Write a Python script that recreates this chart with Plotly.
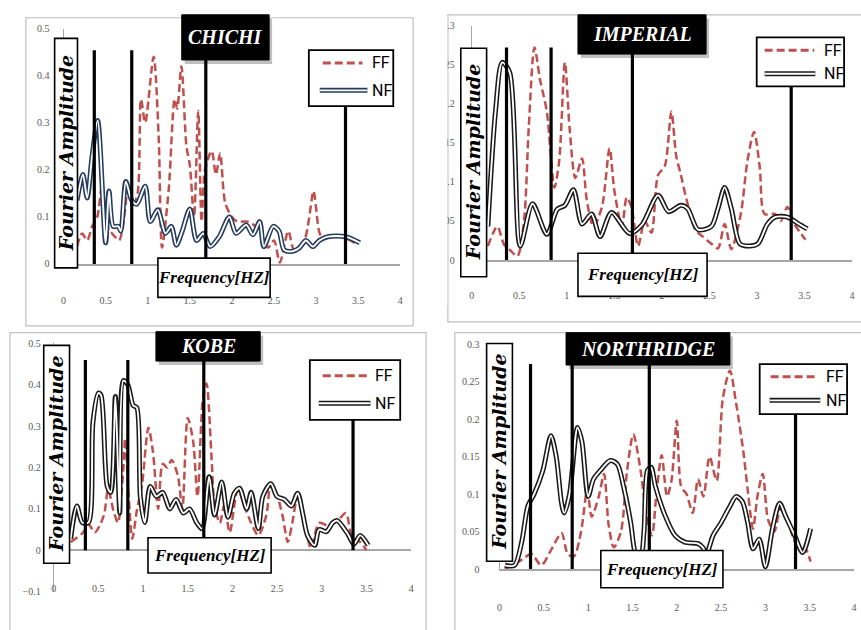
import plotly.graph_objects as go

# ---------------- DATA ----------------
# CHICHI
chichi_ff_f = [0.16, 0.22, 0.28, 0.34, 0.40, 0.46, 0.52, 0.60, 0.66, 0.72, 0.77, 0.82, 0.88, 0.92, 0.97,
               1.07, 1.13, 1.17, 1.25, 1.32, 1.35, 1.40, 1.46, 1.50, 1.55, 1.60, 1.64, 1.68, 1.76, 1.81,
               1.86, 1.92, 2.00, 2.07, 2.19, 2.31, 2.43, 2.50, 2.57, 2.67, 2.74, 2.86, 2.97, 3.00, 3.06,
               3.20, 3.35, 3.50]
chichi_ff_a = [0.037, 0.065, 0.05, 0.08, 0.10, 0.17, 0.08, 0.06, 0.05, 0.10, 0.17, 0.12, 0.15, 0.35, 0.30,
               0.44, 0.27, 0.035, 0.16, 0.35, 0.33, 0.42, 0.25, 0.21, 0.10, 0.325, 0.09, 0.20, 0.24, 0.19,
               0.235, 0.13, 0.10, 0.09, 0.09, 0.075, 0.035, 0.05, 0.003, 0.07, 0.03, 0.05, 0.155, 0.12, 0.06,
               0.06, 0.055, 0.04]
chichi_nf_f = [0.16, 0.23, 0.28, 0.34, 0.405, 0.50, 0.54, 0.59, 0.65, 0.68, 0.74, 0.81, 0.87, 0.97, 1.03,
               1.12, 1.21, 1.28, 1.34, 1.41, 1.50, 1.58, 1.66, 1.74, 1.85, 1.97, 2.05, 2.17, 2.25, 2.33,
               2.38, 2.49, 2.56, 2.62, 2.72, 2.80, 2.88, 2.96, 3.04, 3.14, 3.35, 3.52]
chichi_nf_a = [0.135, 0.19, 0.14, 0.23, 0.305, 0.045, 0.155, 0.08, 0.08, 0.07, 0.175, 0.135, 0.127, 0.165, 0.09,
               0.115, 0.065, 0.08, 0.04, 0.07, 0.117, 0.05, 0.065, 0.037, 0.058, 0.10, 0.065, 0.083, 0.062, 0.09,
               0.037, 0.08, 0.07, 0.03, 0.027, 0.034, 0.05, 0.037, 0.05, 0.058, 0.058, 0.045]
chichi_marks_f = [0.365, 0.81, 1.69, 3.35]
chichi_marks_top = [0.454, 0.454, 0.44, 0.34]

# IMPERIAL
imperial_ff_f = [0.17, 0.27, 0.34, 0.41, 0.48, 0.55, 0.60, 0.66, 0.72, 0.79, 0.87, 0.92, 0.98, 1.03, 1.09,
                 1.16, 1.21, 1.28, 1.37, 1.45, 1.50, 1.58, 1.63, 1.68, 1.75, 1.82, 1.89, 1.96, 2.03, 2.10,
                 2.15, 2.20, 2.26, 2.35, 2.43, 2.52, 2.59, 2.66, 2.73, 2.83, 2.90, 2.97, 3.03, 3.08, 3.19,
                 3.25, 3.32, 3.39, 3.51]
imperial_ff_a = [0.018, 0.043, 0.02, 0.012, 0.005, 0.05, 0.17, 0.272, 0.23, 0.19, 0.093, 0.127, 0.253, 0.168, 0.105,
                 0.13, 0.077, 0.043, 0.068, 0.143, 0.089, 0.043, 0.08, 0.068, 0.018, 0.05, 0.035, 0.109, 0.12, 0.19,
                 0.134, 0.109, 0.077, 0.039, 0.03, 0.021, 0.015, 0.046, 0.014, 0.059, 0.127, 0.164, 0.118, 0.059, 0.059,
                 0.05, 0.068, 0.047, 0.026]
imperial_nf_f = [0.17, 0.25, 0.32, 0.40, 0.51, 0.64, 0.79, 0.90, 0.98, 1.07, 1.16, 1.26, 1.35, 1.47, 1.66,
                 1.79, 1.96, 2.07, 2.20, 2.27, 2.38, 2.52, 2.59, 2.66, 2.73, 2.82, 2.92, 3.01, 3.11, 3.19,
                 3.32, 3.43, 3.53]
imperial_nf_a = [0.043, 0.19, 0.253, 0.24, 0.018, 0.072, 0.033, 0.065, 0.07, 0.09, 0.046, 0.059, 0.03, 0.061, 0.034,
                 0.045, 0.083, 0.062, 0.07, 0.066, 0.039, 0.043, 0.066, 0.093, 0.066, 0.021, 0.018, 0.021, 0.046, 0.055,
                 0.055, 0.047, 0.04]
imperial_marks_f = [0.366, 0.835, 1.69, 3.36]
imperial_marks_top = [0.272, 0.272, 0.265, 0.225]

# KOBE
kobe_ff_f = [0.19, 0.33, 0.39, 0.46, 0.56, 0.61, 0.67, 0.72, 0.78, 0.80, 0.84, 0.88, 0.93, 0.99, 1.06,
             1.11, 1.17, 1.22, 1.27, 1.32, 1.39, 1.44, 1.50, 1.56, 1.61, 1.67, 1.71, 1.77, 1.80, 1.86,
             1.91, 1.97, 2.06, 2.13, 2.21, 2.29, 2.38, 2.43, 2.49, 2.56, 2.62, 2.67, 2.73, 2.82, 2.88,
             2.97, 3.07, 3.17, 3.27, 3.34, 3.43, 3.50]
kobe_ff_a = [0.02, 0.043, 0.063, 0.043, 0.083, 0.147, 0.095, 0.067, 0.2, 0.27, 0.13, 0.028, 0.095, 0.161, 0.296,
             0.24, 0.10, 0.209, 0.20, 0.218, 0.18, 0.10, 0.32, 0.265, 0.13, 0.367, 0.403, 0.21, 0.11, 0.066,
             0.11, 0.043, 0.147, 0.11, 0.066, 0.036, 0.085, 0.161, 0.14, 0.085, 0.02, 0.066, 0.13, 0.052, 0.005,
             0.066, 0.06, 0.07, 0.09, 0.03, 0.02, 0.0]
kobe_nf_f = [0.19, 0.26, 0.32, 0.39, 0.44, 0.50, 0.53, 0.60, 0.64, 0.69, 0.72, 0.74, 0.78, 0.83, 0.89,
             0.93, 0.97, 1.02, 1.08, 1.15, 1.22, 1.30, 1.37, 1.45, 1.52, 1.60, 1.66, 1.74, 1.80, 1.88,
             1.95, 2.02, 2.08, 2.16, 2.21, 2.29, 2.34, 2.43, 2.50, 2.58, 2.66, 2.73, 2.79, 2.84, 2.92,
             2.97, 3.05, 3.12, 3.17, 3.29, 3.36, 3.43, 3.52]
kobe_nf_a = [0.028, 0.107, 0.067, 0.067, 0.31, 0.38, 0.375, 0.154, 0.14, 0.372, 0.2, 0.09, 0.41, 0.40, 0.35,
             0.345, 0.13, 0.067, 0.154, 0.13, 0.14, 0.10, 0.123, 0.09, 0.10, 0.067, 0.052, 0.178, 0.085, 0.165,
             0.08, 0.137, 0.15, 0.10, 0.14, 0.052, 0.13, 0.161, 0.13, 0.123, 0.107, 0.138, 0.085, 0.036, 0.012,
             0.05, 0.045, 0.066, 0.072, 0.04, 0.015, 0.036, 0.012]
kobe_marks_f = [0.355, 0.83, 1.68, 3.35]
kobe_marks_top = [0.46, 0.46, 0.46, 0.32]

# NORTHRIDGE
north_ff_f = [0.06, 0.22, 0.36, 0.47, 0.58, 0.70, 0.77, 0.84, 0.92, 0.99, 1.04, 1.12, 1.18, 1.23, 1.29,
              1.37, 1.44, 1.51, 1.59, 1.66, 1.72, 1.77, 1.83, 1.89, 1.94, 2.00, 2.05, 2.11, 2.18, 2.24,
              2.30, 2.37, 2.45, 2.52, 2.60, 2.67, 2.75, 2.80, 2.86, 2.91, 2.97, 3.03, 3.10, 3.17, 3.25,
              3.34, 3.44, 3.51]
north_ff_a = [0.0, 0.01, 0.02, 0.005, 0.025, 0.048, 0.02, 0.017, 0.05, 0.106, 0.07, 0.097, 0.127, 0.06, 0.029,
              0.05, 0.132, 0.18, 0.133, 0.07, 0.045, 0.10, 0.152, 0.097, 0.118, 0.198, 0.11, 0.10, 0.075, 0.12,
              0.097, 0.15, 0.118, 0.228, 0.265, 0.221, 0.158, 0.106, 0.054, 0.097, 0.127, 0.066, 0.05, 0.08, 0.066,
              0.035, 0.03, 0.01]
north_nf_f = [0.06, 0.17, 0.25, 0.32, 0.39, 0.49, 0.58, 0.64, 0.70, 0.73, 0.79, 0.88, 0.93, 1.00, 1.06,
              1.14, 1.25, 1.33, 1.40, 1.48, 1.53, 1.59, 1.63, 1.67, 1.71, 1.76, 1.87, 1.98, 2.09, 2.24,
              2.30, 2.33, 2.41, 2.50, 2.60, 2.67, 2.74, 2.80, 2.86, 2.93, 3.00, 3.08, 3.16, 3.23, 3.33,
              3.42, 3.51]
north_nf_a = [0.005, 0.005, 0.036, 0.084, 0.10, 0.132, 0.178, 0.15, 0.088, 0.075, 0.10, 0.189, 0.17, 0.097, 0.12,
              0.132, 0.145, 0.14, 0.11, 0.062, 0.022, 0.01, 0.05, 0.132, 0.136, 0.11, 0.071, 0.045, 0.036, 0.034,
              0.028, 0.018, 0.045, 0.062, 0.084, 0.097, 0.09, 0.062, 0.027, 0.04, 0.003, 0.054, 0.088, 0.07, 0.045,
              0.022, 0.054]
north_marks_f = [0.35, 0.82, 1.69, 3.34]
north_marks_top = [0.274, 0.275, 0.275, 0.21]

titles = ["CHICHI", "IMPERIAL", "KOBE", "NORTHRIDGE"]
series_names = ["FF", "NF"]
x_axis_title = "Frequency[HZ]"
y_axis_title = "Fourier Amplitude"
x_ticks = [0, 0.5, 1, 1.5, 2, 2.5, 3, 3.5, 4]
y_ticks_chichi = [0, 0.1, 0.2, 0.3, 0.4, 0.5]
y_ticks_imperial = [0, 0.05, 0.1, 0.15, 0.2, 0.25, 0.3]
y_ticks_kobe = [-0.1, 0, 0.1, 0.2, 0.3, 0.4, 0.5]
y_ticks_north = [0, 0.05, 0.1, 0.15, 0.2, 0.25, 0.3]

# ---------------- LAYOUT / STYLE ----------------
W, H = 861, 630
def PX(x): return x / W
def PY(y): return 1 - y / H

FF_COLOR = "#c0504d"
TICK_FONT = dict(family="Liberation Serif, serif", size=10, color="#595959")
AXIS_GRAY = "#a6a6a6"

panels = [
    dict(ff=(chichi_ff_f, chichi_ff_a), nf=(chichi_nf_f, chichi_nf_a),
         marks=(chichi_marks_f, chichi_marks_top), yticks=y_ticks_chichi,
         nf_color="#243b5e", plot=(61, 400, 23, 263), xlab=(26, None), ystand=11,
         title=(180, 268, 9, 55), fourier=(52, 75, 33, 267), freq=(156, 269, 257, 297),
         legend=(308, 393, 45, 102), leg_ff=(58, 322, 362), leg_nf=(86, 319, 367), leg_tx=370,
         frame=(23, 413, 12, 326)),
    dict(ff=(imperial_ff_f, imperial_ff_a), nf=(imperial_nf_f, imperial_nf_a),
         marks=(imperial_marks_f, imperial_marks_top), yticks=y_ticks_imperial,
         nf_color="#1a1a1a", plot=(472, 855, 20, 259), xlab=(25, None), ystand=14,
         title=(579, 708, 9, 49), fourier=(461, 487, 43, 276), freq=(579, 709, 252, 296),
         legend=(759, 847, 32, 82), leg_ff=(45, 767, 817), leg_nf=(69, 767, 818), leg_tx=825,
         frame=(448, 866, 9, 322)),
    dict(ff=(kobe_ff_f, kobe_ff_a), nf=(kobe_nf_f, kobe_nf_a),
         marks=(kobe_marks_f, kobe_marks_top), yticks=y_ticks_kobe,
         nf_color="#1a1a1a", plot=(51, 411, 344, 597), xlab=(None, 586), ystand=10,
         title=(154, 259, 332, 362), fourier=(41, 67, 346, 568), freq=(146, 270, 542, 578),
         legend=(309, 400, 361, 422), leg_ff=(377, 322, 368), leg_nf=(405, 318, 370), leg_tx=373,
         frame=(7, 426, 333, 640)),
    dict(ff=(north_ff_f, north_ff_a), nf=(north_nf_f, north_nf_a),
         marks=(north_marks_f, north_marks_top), yticks=y_ticks_north,
         nf_color="#1a1a1a", plot=(500, 857, 345, 574), xlab=(28, None), ystand=17,
         title=(567, 732, 333, 366), fourier=(487, 513, 344, 566), freq=(602, 725, 555, 593),
         legend=(762, 850, 365, 416), leg_ff=(378, 773, 818), leg_nf=(402, 772, 823), leg_tx=827,
         frame=(455, 866, 333, 640)),
]

fig = go.Figure()
shapes = []
annotations = []

# panel frames (drawn first, below everything)
for p in panels:
    x0, x1, y0, y1 = p["frame"]
    shapes.append(dict(type="rect", xref="paper", yref="paper", layer="below",
                       x0=PX(x0), x1=PX(x1), y0=PY(y1), y1=PY(y0),
                       line=dict(color="#bfbfbf", width=1.2), fillcolor="white"))

for i, p in enumerate(panels):
    k = "" if i == 0 else str(i + 1)
    xa, ya = "x" + k, "y" + k
    ff_f, ff_a = p["ff"]
    nf_f, nf_a = p["nf"]
    mf, mt = p["marks"]

    fig.add_trace(go.Scatter(x=ff_f, y=ff_a, mode="lines", xaxis=xa, yaxis=ya, showlegend=False,
                             line=dict(color=FF_COLOR, width=2.5, dash="8px,4px", shape="spline", smoothing=0.8)))
    fig.add_trace(go.Scatter(x=nf_f, y=nf_a, mode="lines", xaxis=xa, yaxis=ya, showlegend=False,
                             line=dict(color=p["nf_color"], width=5, shape="spline", smoothing=0.8)))
    fig.add_trace(go.Scatter(x=nf_f, y=nf_a, mode="lines", xaxis=xa, yaxis=ya, showlegend=False,
                             line=dict(color="white", width=1.9, shape="spline", smoothing=0.8)))
    vx, vy = [], []
    for f, t in zip(mf, mt):
        vx += [f, f, None]
        vy += [0, t, None]
    fig.add_trace(go.Scatter(x=vx, y=vy, mode="lines", xaxis=xa, yaxis=ya, showlegend=False,
                             line=dict(color="black", width=3.2)))

    px0, px1, pyt, pyb = p["plot"]
    yt = p["yticks"]
    xaxis = dict(domain=[PX(px0), PX(px1)], range=[0, 4], tickvals=x_ticks, ticks="",
                 showgrid=False, zeroline=False, tickfont=TICK_FONT, fixedrange=True)
    stand, freepos = p["xlab"]
    if freepos is None:
        xaxis.update(anchor=ya, showline=True, linecolor=AXIS_GRAY, linewidth=1.5, ticklabelstandoff=stand)
    else:
        xaxis.update(anchor="free", position=PY(freepos), showline=False)
    yaxis = dict(domain=[PY(pyb), PY(pyt)], range=[yt[0], yt[-1]], tickvals=yt, ticks="",
                 showgrid=False, zeroline=True, zerolinecolor=AXIS_GRAY, zerolinewidth=1.5,
                 showline=True, linecolor=AXIS_GRAY, linewidth=1, anchor=xa,
                 tickfont=TICK_FONT, ticklabelstandoff=p["ystand"], fixedrange=True)
    fig.update_layout(**{"xaxis" + k: xaxis, "yaxis" + k: yaxis})

    # title box with shadow
    tx0, tx1, ty0, ty1 = p["title"]
    shapes.append(dict(type="rect", xref="paper", yref="paper", layer="above",
                       x0=PX(tx0 + 3), x1=PX(tx1 + 3), y0=PY(ty1 + 4), y1=PY(ty0 + 4),
                       line=dict(width=0), fillcolor="rgba(0,0,0,0.25)"))
    shapes.append(dict(type="rect", xref="paper", yref="paper", layer="above",
                       x0=PX(tx0), x1=PX(tx1), y0=PY(ty1), y1=PY(ty0),
                       line=dict(color="black", width=1), fillcolor="black"))
    annotations.append(dict(xref="paper", yref="paper", x=PX((tx0 + tx1) / 2), y=PY((ty0 + ty1) / 2),
                            text="<b><i>%s</i></b>" % titles[i], showarrow=False,
                            xanchor="center", yanchor="middle",
                            font=dict(family="Liberation Serif, serif", size=20, color="white")))

    # y axis title box
    fx0, fx1, fy0, fy1 = p["fourier"]
    shapes.append(dict(type="rect", xref="paper", yref="paper", layer="above",
                       x0=PX(fx0), x1=PX(fx1), y0=PY(fy1), y1=PY(fy0),
                       line=dict(color="black", width=1.6), fillcolor="white"))
    annotations.append(dict(xref="paper", yref="paper", x=PX((fx0 + fx1) / 2), y=PY((fy0 + fy1) / 2),
                            text="<b><i>%s</i></b>" % y_axis_title, showarrow=False, textangle=-90,
                            xanchor="center", yanchor="middle",
                            font=dict(family="DejaVu Serif, serif", size=19, color="black")))

    # x axis title box
    qx0, qx1, qy0, qy1 = p["freq"]
    shapes.append(dict(type="rect", xref="paper", yref="paper", layer="above",
                       x0=PX(qx0), x1=PX(qx1), y0=PY(qy1), y1=PY(qy0),
                       line=dict(color="black", width=1.6), fillcolor="white"))
    annotations.append(dict(xref="paper", yref="paper", x=PX((qx0 + qx1) / 2), y=PY((qy0 + qy1) / 2),
                            text="<b><i>%s</i></b>" % x_axis_title, showarrow=False,
                            xanchor="center", yanchor="middle",
                            font=dict(family="Liberation Serif, serif", size=17, color="black")))

    # legend box
    lx0, lx1, ly0, ly1 = p["legend"]
    shapes.append(dict(type="rect", xref="paper", yref="paper", layer="above",
                       x0=PX(lx0), x1=PX(lx1), y0=PY(ly1), y1=PY(ly0),
                       line=dict(color="black", width=1.8), fillcolor="white"))
    fy, fa, fb = p["leg_ff"]
    shapes.append(dict(type="line", xref="paper", yref="paper", layer="above",
                       x0=PX(fa), x1=PX(fb), y0=PY(fy), y1=PY(fy),
                       line=dict(color=FF_COLOR, width=3, dash="8px,4px")))
    ny, na, nb = p["leg_nf"]
    shapes.append(dict(type="line", xref="paper", yref="paper", layer="above",
                       x0=PX(na), x1=PX(nb), y0=PY(ny), y1=PY(ny),
                       line=dict(color=p["nf_color"], width=5)))
    shapes.append(dict(type="line", xref="paper", yref="paper", layer="above",
                       x0=PX(na), x1=PX(nb), y0=PY(ny), y1=PY(ny),
                       line=dict(color="white", width=1.9)))
    for yy, name in ((fy, series_names[0]), (ny, series_names[1])):
        annotations.append(dict(xref="paper", yref="paper", x=PX(p["leg_tx"]), y=PY(yy),
                                text=name, showarrow=False, xanchor="left", yanchor="middle",
                                font=dict(family="Liberation Sans Narrow, Roboto, sans-serif", size=16,
                                          color="black")))

# white mask clipping the IMPERIAL tick labels at its frame edge
shapes.append(dict(type="rect", xref="paper", yref="paper", layer="above",
                   x0=PX(416), x1=PX(447.5), y0=PY(305), y1=PY(11),
                   line=dict(width=0), fillcolor="white"))

fig.update_layout(width=W, height=H, margin=dict(l=0, r=0, t=0, b=0),
                  paper_bgcolor="white", plot_bgcolor="rgba(0,0,0,0)",
                  showlegend=False, shapes=shapes, annotations=annotations)

fig.write_html("out.html")
